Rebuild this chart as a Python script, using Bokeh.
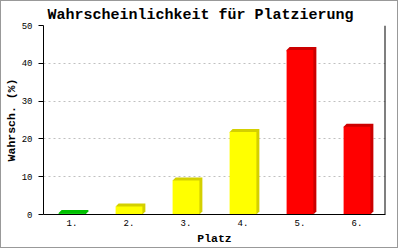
from bokeh.plotting import figure
from bokeh.models import FixedTicker, Range1d, ColumnDataSource, Span
from bokeh.embed import file_html
from bokeh.resources import INLINE

# ---- data ----
places = ["1.", "2.", "3.", "4.", "5.", "6."]
probs = [0.4, 2.1, 9.0, 21.8, 43.5, 23.2]
front_colors = ["#11d011", "#ffff00", "#ffff00", "#ffff00", "#ff0000", "#ff0000"]
side_colors = ["#00c000", "#d4d000", "#d4d000", "#d4d000", "#cc0000", "#cc0000"]
y_ticks = [0, 10, 20, 30, 40, 50]

MONO = "Liberation Mono"
W, H = 398, 248

p = figure(width=W, height=H, output_backend="svg", toolbar_location=None,
           x_range=Range1d(0.5, 6.5), y_range=Range1d(0, 50),
           min_border_left=42, min_border_right=14, min_border_top=24, min_border_bottom=35)
p.styles = {"border": "1px solid #999999"}
p.outline_line_color = None
p.background_fill_color = "white"
p.border_fill_color = "white"

# 3D offset in data units (approx 3px)
dx = 3 / 57.0
dy = 3 / 3.78
bw = 0.47
xs_c = [i + 1 for i in range(len(places))]

side_xs = [[c - bw / 2, c - bw / 2 + dx, c + bw / 2 + dx, c + bw / 2 + dx, c + bw / 2] for c in xs_c]
side_ys = [[v, v + dy, v + dy, dy, 0] for v in probs]
p.patches(side_xs, side_ys, fill_color=side_colors, line_color=None)

src = ColumnDataSource(dict(x=xs_c, top=probs, color=front_colors))
p.vbar(x="x", top="top", bottom=0, width=bw, fill_color="color", line_color=None, source=src)

# title
p.title.text = "Wahrscheinlichkeit für Platzierung"
p.title.text_font = MONO
p.title.text_font_size = "15px"
p.title.text_font_style = "bold"
p.title.text_color = "black"
p.title.text_line_height = 0.8
p.title.align = "left"
p.title.offset = 4
p.title.standoff = 3

# y axis
ya = p.yaxis[0]
ya.ticker = FixedTicker(ticks=y_ticks)
ya.axis_label = "Wahrsch. (%)"
ya.axis_label_text_font = MONO
ya.axis_label_text_font_size = "11.5px"
ya.axis_label_text_font_style = "bold"
ya.axis_label_text_color = "black"
ya.axis_label_standoff = 1
ya.major_label_text_font = MONO
ya.major_label_text_font_size = "9px"
ya.major_label_text_color = "black"
ya.major_tick_out = 5
ya.major_tick_in = 0
ya.minor_tick_out = 0
ya.minor_tick_in = 0
ya.major_label_standoff = 6
ya.axis_line_color = "black"
ya.major_tick_line_color = "black"

# x axis
xa = p.xaxis[0]
xa.ticker = FixedTicker(ticks=xs_c)
xa.major_label_overrides = {c: lab for c, lab in zip(xs_c, places)}
xa.axis_label = "Platz"
xa.axis_label_text_font = MONO
xa.axis_label_text_font_size = "11.5px"
xa.axis_label_text_font_style = "bold"
xa.axis_label_text_color = "black"
xa.axis_label_standoff = 3
xa.major_label_text_font = MONO
xa.major_label_text_font_size = "9px"
xa.major_label_text_color = "black"
xa.major_tick_out = 0
xa.major_tick_in = 0
xa.minor_tick_out = 0
xa.minor_tick_in = 0
xa.major_label_standoff = 5
xa.axis_line_color = "black"

# right frame line
p.add_layout(Span(location=6.5, dimension="height", line_color="black", line_width=2))

# grid
p.xgrid.visible = False
p.ygrid.ticker = FixedTicker(ticks=y_ticks)
p.ygrid.grid_line_color = "#c0c0c0"
p.ygrid.grid_line_dash = "2 3"

open("out.html", "w").write(file_html(p, INLINE))
